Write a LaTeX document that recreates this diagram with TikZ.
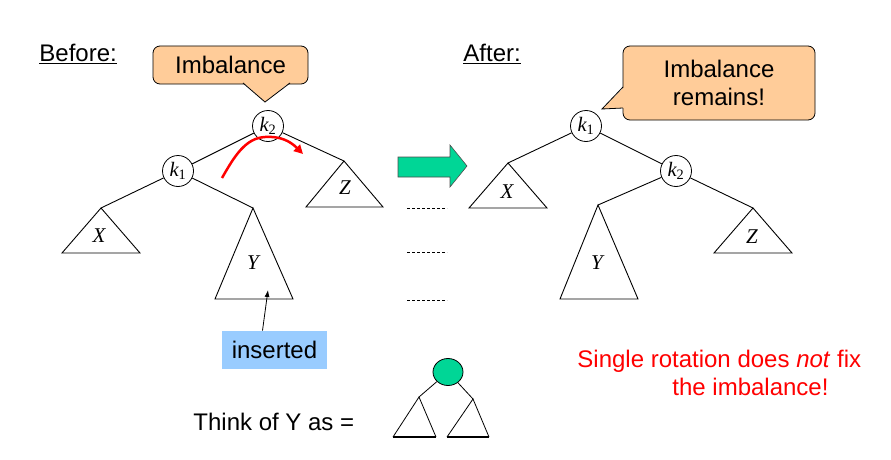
\documentclass[tikz,border=0pt]{standalone}
\usepackage{fontspec}
\setmainfont{Liberation Sans}
\newfontfamily\serifit{Liberation Serif}
\usepackage{tikz}
\usetikzlibrary{arrows.meta,shapes.geometric}
\definecolor{peach}{RGB}{255,204,153}
\definecolor{aqua}{RGB}{0,214,150}
\definecolor{skyblue}{RGB}{153,204,255}

\begin{document}
\begin{tikzpicture}[x=1pt,y=-1pt,line width=0.9pt,
  txt/.style={font=\fontsize{24}{28}\selectfont},
  key/.style={circle,draw,line width=0.8pt,fill=white,minimum size=31pt,inner sep=0pt,
    font=\fontsize{20.5}{22}\selectfont\serifit\itshape},
  tlabel/.style={font=\fontsize{21}{22}\selectfont\serifit\itshape},
  callout/.style={draw,fill=peach,line width=0.8pt,rounded corners=7pt,txt}]
\useasboundingbox (0,0) rectangle (891,460);

% headings
\node[txt,anchor=base west,inner sep=0] (before) at (39,62) {\underline{Before:}};
\node[txt,anchor=base west,inner sep=0] (after) at (463,62) {\underline{After:}};

% callouts
\node[callout,minimum width=155pt,minimum height=38pt] (imb) at (230.5,65) {Imbalance};
\fill[peach] (243,82) -- (265,102) -- (290,82) -- cycle;
\draw[line width=0.8pt] (243,83) -- (265,102) -- (290,83);
\node[callout,minimum width=192pt,minimum height=74pt,align=center] (rem) at (719,83) {Imbalance\\remains!};
\fill[peach] (624,87) -- (602,109) -- (624,108) -- cycle;
\draw[line width=0.8pt] (623,87) -- (602,109) -- (623,108);

% before
\node[key] (bk2) at (268,126) {k\textsubscript{\upshape 2}};
\node[key] (bk1) at (178,171) {k\textsubscript{\upshape 1}};
\coordinate (bxa) at (101,208);
\coordinate (bya) at (253,208);
\coordinate (bza) at (344,161);
\draw (bxa) -- (62,253) -- (140,253) -- cycle;
\draw (bya) -- (215,299) -- (293,299) -- cycle;
\draw (bza) -- (306,207) -- (383,207) -- cycle;
\node[tlabel] (bx) at (99,236) {X};
\node[tlabel] (by) at (253,263) {Y};
\node[tlabel] (bz) at (345,188) {Z};
\draw (bk2) -- (bk1);
\draw (bk1) -- (bxa);
\draw (bk1) -- (bya);
\draw (bk2) -- (bza);
\draw[red,line width=2.5pt,-{Triangle[length=9pt,width=9pt]}] (222,178)
  .. controls (235,155) and (246,138) .. (265,137)
  .. controls (280,136) and (290,141) .. (303,154);

% rotation arrow
\filldraw[fill=aqua,draw=black!70,line width=0.6pt] (398,157) -- (450,157) -- (450,145)
  -- (467,166) -- (450,187) -- (450,177) -- (398,177) -- cycle;
\foreach \y in {208,252,300}
  \draw[line width=0.8pt,dash pattern=on 3pt off 2pt] (407,\y) -- (447,\y);

% after
\node[key] (ak1) at (586,126) {k\textsubscript{\upshape 1}};
\node[key] (ak2) at (676,171) {k\textsubscript{\upshape 2}};
\coordinate (axa) at (508,163);
\coordinate (aya) at (598,205);
\coordinate (aza) at (753,208);
\draw (axa) -- (469,208) -- (547,208) -- cycle;
\draw (aya) -- (560,299) -- (638,299) -- cycle;
\draw (aza) -- (714,253) -- (792,253) -- cycle;
\node[tlabel] (ax) at (507,192) {X};
\node[tlabel] (ay) at (597,263) {Y};
\node[tlabel] (az) at (752,237) {Z};
\draw (ak1) -- (ak2);
\draw (ak1) -- (axa);
\draw (ak2) -- (aya);
\draw (ak2) -- (aza);

% inserted
\node[fill=skyblue,minimum width=105pt,minimum height=38pt,txt] (ins) at (274.5,350) {inserted};
\coordinate (ytip) at (268,290);
\draw[line width=0.8pt,-{Latex[length=7pt,width=5pt]}] ([xshift=-12pt]ins.north) -- (ytip);

% think of Y
\node[txt,anchor=base west,inner sep=0] (think) at (193,430) {Think of Y as =};
\node[ellipse,draw,fill=aqua,line width=0.8pt,minimum width=30pt,minimum height=27pt,inner sep=0] (root) at (448,372) {};
\coordinate (lt) at (419,397);
\coordinate (rt) at (473,399);
\draw[line width=0.8pt] (root) -- (lt);
\draw[line width=0.8pt] (root) -- (rt);
\draw[line width=0.8pt] (393,437) -- (lt) -- (436,437);
\draw[line width=0.8pt] (447,437) -- (rt) -- (489,437);
\draw[line width=2pt] (393,437) -- (436,437);
\draw[line width=2pt] (447,437) -- (489,437);

% note
\node[txt,text=red,anchor=base west,inner sep=0] (note1) at (577,367) {Single rotation does \textit{not} fix};
\node[txt,text=red,anchor=base west,inner sep=0] (note2) at (672,395) {the imbalance!};
\end{tikzpicture}
\end{document}
